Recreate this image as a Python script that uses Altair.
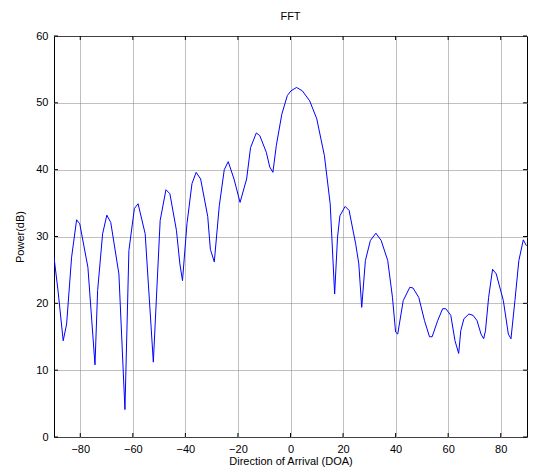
import altair as alt
import pandas as pd

doa = [-90, -88.5, -86.5, -85.2, -83.3, -81.4, -80.2, -77.1, -74.4, -73.4, -71.5, -69.9, -68.4,
       -65.3, -63.0, -61.5, -59.4, -58.0, -55.3, -52.2, -49.6, -47.4, -45.9, -43.4, -42.1, -41.1,
       -39.4, -37.5, -35.9, -34.2, -31.5, -30.5, -29.0, -27.1, -25.2, -23.7, -21.5, -19.2, -16.7,
       -15.2, -13.0, -11.7, -9.2, -7.9, -6.7, -5.4, -3.3, -1.2, 0.2, 2.3, 4.5, 7.3, 10.0, 12.9,
       15.1, 16.8, 17.9, 18.8, 20.8, 22.3, 24.8, 26.0, 27.1, 28.5, 30.4, 32.5, 34.5, 37.0, 38.8,
       40.0, 40.8, 42.9, 45.4, 46.6, 48.8, 51.0, 52.9, 53.9, 56.0, 57.9, 59.1, 61.0, 62.6, 64.0,
       64.8, 66.0, 67.9, 69.5, 71.0, 72.5, 73.5, 74.2, 75.4, 76.9, 78.3, 81.0, 82.9, 83.9, 85.4,
       86.9, 88.6, 89.8]
power = [26.9, 22.0, 14.4, 16.9, 26.9, 32.5, 31.9, 25.4, 10.8, 21.9, 30.4, 33.2, 32.1,
         24.4, 4.1, 27.9, 34.2, 34.9, 30.4, 11.2, 32.4, 37.0, 36.4, 30.9, 25.9, 23.4,
         31.9, 37.9, 39.6, 38.6, 33.0, 28.1, 26.2, 34.6, 40.0, 41.2, 38.6, 35.1, 38.6,
         43.3, 45.5, 45.1, 42.6, 40.4, 39.6, 43.6, 48.3, 51.1, 51.8, 52.3, 51.8, 50.3, 47.6, 42.1,
         34.9, 21.4, 29.9, 33.1, 34.5, 33.9, 28.9, 25.9, 19.4, 26.4, 29.4, 30.5, 29.4, 26.4, 20.9,
         15.7, 15.4, 20.4, 22.4, 22.3, 20.9, 17.4, 15.0, 15.0, 17.4, 19.2, 19.2, 18.2, 14.4, 12.5,
         15.9, 17.7, 18.4, 18.2, 17.4, 15.4, 14.7, 15.9, 20.9, 25.1, 24.4, 20.4, 15.4, 14.7, 20.4,
         26.4, 29.5, 28.6]

x_ticks = [-80, -60, -40, -20, 0, 20, 40, 60, 80]
y_ticks = [0, 10, 20, 30, 40, 50, 60]

W, H = 473, 401
FONT = "Liberation Sans"

df = pd.DataFrame({"doa": doa, "power": power})
xt = pd.DataFrame({"doa": x_ticks})
yt = pd.DataFrame({"power": y_ticks})

xs = alt.Scale(domain=[-90, 90], nice=False, zero=False)
ys = alt.Scale(domain=[0, 60], nice=False)
x_axis = alt.Axis(values=x_ticks, title="Direction of Arrival (DOA)", grid=True,
                  tickSize=0, labelPadding=6, titleBaseline="alphabetic", titleY=27)
y_axis = alt.Axis(values=y_ticks, title="Power(dB)", grid=True,
                  tickSize=0, labelPadding=6, titlePadding=10)

line = alt.Chart(df).mark_line(color="#0000ff", strokeWidth=1, clip=True).encode(
    x=alt.X("doa:Q", scale=xs, axis=x_axis),
    y=alt.Y("power:Q", scale=ys, axis=y_axis),
)

tick_len = 4
xb = alt.Chart(xt).mark_rule(color="black", strokeWidth=1).encode(
    x=alt.X("doa:Q", scale=xs, axis=x_axis), y=alt.value(H), y2=alt.value(H - tick_len))
xtop = alt.Chart(xt).mark_rule(color="black", strokeWidth=1).encode(
    x=alt.X("doa:Q", scale=xs, axis=x_axis), y=alt.value(0), y2=alt.value(tick_len))
yl = alt.Chart(yt).mark_rule(color="black", strokeWidth=1).encode(
    y=alt.Y("power:Q", scale=ys, axis=y_axis), x=alt.value(0), x2=alt.value(tick_len))
yr = alt.Chart(yt).mark_rule(color="black", strokeWidth=1).encode(
    y=alt.Y("power:Q", scale=ys, axis=y_axis), x=alt.value(W), x2=alt.value(W - tick_len))

chart = alt.layer(line, xb, xtop, yl, yr).properties(
    width=W, height=H,
    title=alt.TitleParams("FFT", font=FONT, fontSize=11, fontWeight="normal", offset=8, color="black"),
    autosize=alt.AutoSizeParams(type="none"),
    padding={"left": 46, "top": 28, "right": 1, "bottom": 31},
).configure_view(
    stroke="black", strokeWidth=1
).configure_axis(
    labelFont=FONT, titleFont=FONT, labelFontSize=11, titleFontSize=11,
    titleFontWeight="normal", labelColor="black", titleColor="black",
    gridColor="#808080", gridDash=[1, 1], gridWidth=1, gridOpacity=1,
    domain=False,
)

chart.save("out.html", embed_options={"renderer": "svg", "actions": False})
